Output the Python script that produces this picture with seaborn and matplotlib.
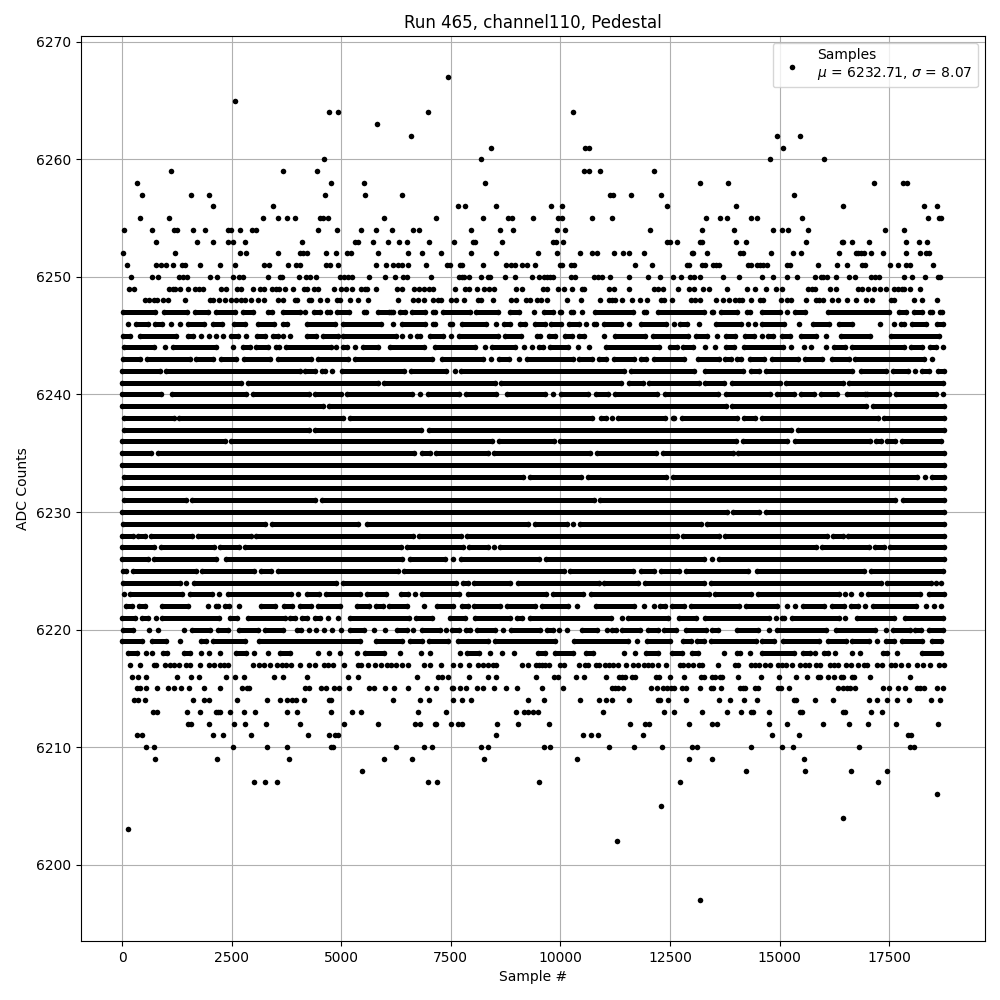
import pandas as pd
import matplotlib
matplotlib.use("Agg")
import matplotlib.pyplot as plt
import seaborn as sns

# outlying samples, read one by one: ADC level -> sample numbers
sparse_levels = [6267, 6265, 6264, 6263, 6262, 6261, 6260, 6259, 6258, 6257, 6256, 6255, 6254, 6253, 6252, 6251, 6250, 6249, 6248,
                 6217, 6216, 6215, 6214, 6213, 6212, 6211, 6210, 6209, 6208, 6207, 6206, 6205, 6204, 6203, 6202, 6197]
sparse_samples = [
    [7425],
    [2584],
    [4712, 4917, 6969, 10289],
    [5806],
    [6582, 14940, 15464],
    [8406, 10562, 10654, 15077],
    [4598, 8178, 14780, 16012],
    [1110, 3663, 4438, 10540, 10654, 10904, 12136],
    [334, 4758, 5510, 8269, 13184, 13823, 17152, 17813, 17904],
    [448, 1566, 1976, 4621, 5533, 6376, 11132, 11200, 11611, 12295, 15328],
    [2067, 3435, 7653, 7813, 8542, 9787, 10038, 12432, 14005, 16445, 18292, 18588],
    [403, 1064, 3207, 3549, 3754, 3937, 4507, 4590, 4690, 5966, 7167, 8223, 8816, 8907, 9377, 9947, 10038, 10722, 11178, 13321,
     13640, 13800, 14347, 14484, 15510, 18383, 18634, 18679],
    [38, 676, 1178, 1254, 1611, 1885, 2410, 2478, 2683, 2956, 3048, 4461, 4894, 5442, 5784, 6148, 6627, 6764, 7950, 8611, 8930,
     9924, 10106, 12044, 13230, 13960, 14849, 15054, 15191, 15647, 17402, 17836],
    [768, 1702, 2067, 2409, 2523, 2797, 4096, 5305, 5373, 5715, 6057, 6308, 6490, 6992, 7577, 8010, 8056, 8679, 9833, 9901, 10061,
     12432, 12500, 12660, 13184, 13230, 14005, 14233, 15601, 16422, 16445, 16650, 17038, 17881, 18178, 18360],
    [15, 1200, 2683, 2820, 3549, 4050, 4119, 4210, 4644, 4872, 5122, 5214, 5829, 6513, 6832, 7266, 7950, 8542, 9491, 9924, 10448,
     10722, 10836, 11224, 11429, 11566, 11908, 13002, 13025, 13344, 14096, 14165, 14803, 15305, 15487, 16354, 16741, 16800, 16855,
     16923, 17083, 17357, 17881, 18200, 18337, 18406],
    [106, 768, 882, 996, 1155, 1376, 1444, 1771, 2227, 2569, 3230, 3344, 3777, 3960, 4050, 4644, 4735, 4917, 5784, 6012, 6171, 6285,
     6376, 6513, 6924, 7402, 7471, 7699, 7744, 8223, 8748, 8884, 8953, 9135, 9249, 9422, 9992, 10038, 10243, 10312, 11702, 12090,
     12888, 12934, 13230, 13298, 13481, 13549, 13618, 14279, 14347, 14484, 14552, 14621, 14712, 15168, 15236, 15875, 16308, 16536,
     16878, 16946, 17516, 17699, 17881, 17972, 18497],
    [198, 676, 813, 1292, 1383, 1474, 1999, 2158, 2523, 2660, 2751, 3321, 3595, 3640, 4028, 4188, 4279, 4416, 4963, 5054, 5145, 5236,
     5624, 5989, 6217, 6399, 6490, 7038, 7676, 7744, 7790, 7904, 8178, 8337, 8383, 8725, 8953, 9354, 9514, 9628, 9696, 9764, 9833,
     10243, 10334, 10768, 10859, 10950, 11132, 11566, 12000, 12272, 12569, 12751, 12956, 13048, 13184, 13709, 14074, 14598, 14849,
     15168, 15396, 15806, 15943, 15989, 16080, 16285, 16582, 16718, 17083, 17174, 17266, 17836, 18018, 18314, 18611, 18657],
    [152, 266, 1064, 1155, 1200, 1315, 1497, 1657, 1748, 1839, 2250, 2364, 2614, 2706, 2979, 3139, 3230, 3412, 3504, 3572, 3709, 3891,
     4142, 4210, 4370, 4461, 4826, 4986, 5100, 5236, 5442, 5533, 5578, 5784, 6262, 6376, 6650, 6764, 6878, 6992, 7083, 7592, 7813,
     7904, 8086, 8246, 8360, 8474, 8976, 9135, 9605, 9696, 9947, 10084, 10266, 10494, 10540, 11110, 11224, 11566, 12136, 12227, 12341,
     12683, 12934, 13048, 13253, 13390, 13800, 14256, 14438, 14689, 14917, 15054, 15647, 15738, 15806, 16148, 16285, 16787, 16878,
     17015, 17152, 17288, 17425, 17608, 17699, 17790, 17836, 17972, 18200],
    [517, 608, 722, 790, 927, 1041, 1429, 1999, 2067, 2204, 2341, 2478, 2592, 2706, 2797, 2934, 3093, 3230, 3549, 3663, 3937, 3982,
     4256, 4302, 4507, 4666, 4894, 4963, 5191, 5373, 5601, 6285, 6627, 6741, 6878, 7083, 7197, 7266, 7494, 7608, 7790, 8109, 8178,
     8451, 8862, 8976, 9204, 9308, 9468, 9559, 9696, 10152, 10471, 10904, 11110, 11178, 11246, 11406, 11634, 11817, 11977, 12295,
     12364, 12546, 12979, 13070, 13184, 13549, 13709, 13846, 13982, 14074, 14142, 14347, 14552, 14621, 15031, 15168, 15259, 15601,
     15829, 15897, 15989, 16194, 16331, 16536, 16741, 16969, 17106, 17539, 17608, 18064, 18246, 18588],
    [175, 403, 722, 770, 973, 1087, 1180, 1292, 1452, 1543, 1771, 1976, 2090, 2227, 2320, 2409, 2979, 3116, 3230, 3367, 3526, 3640,
     3732, 3846, 4050, 4256, 4393, 4598, 4700, 4803, 5054, 5373, 5460, 5601, 5761, 5898, 6034, 6126, 6240, 6376, 6513, 6878, 7014,
     7266, 7539, 7699, 7904, 8109, 8223, 8337, 8451, 8542, 9135, 9272, 9445, 9510, 9582, 9650, 9742, 9992, 10084, 10425, 10562, 10631,
     10813, 10882, 11018, 11110, 11200, 11315, 11497, 11657, 11771, 11908, 12000, 12090, 12227, 12409, 12728, 12797, 12911, 13025,
     13162, 13230, 13595, 13982, 14050, 14347, 14438, 14529, 14666, 14780, 14963, 15054, 15145, 15282, 15464, 15578, 15670, 15829,
     15920, 16148, 16240, 16331, 16513, 16627, 16787, 16923, 16992, 17220, 17334, 17539, 17630, 17767, 17927, 18132, 18269, 18428,
     18634, 18748],
    [220, 357, 540, 1246, 1566, 1748, 2364, 2569, 2774, 3458, 3663, 4210, 5145, 5373, 6718, 7197, 7288, 7425, 7904, 8337, 8520, 9445,
     9856, 9947, 10357, 10540, 11041, 11338, 11405, 11474, 11634, 11700, 12181, 12250, 12500, 12820, 13207, 13275, 13458, 13525,
     13640, 13685, 14050, 14575, 14986, 15373, 15624, 15875, 15920, 16103, 16240, 16400, 16445, 16650, 16695, 17060, 17972],
    [334, 403, 547, 790, 1041, 1178, 1338, 1520, 1862, 2227, 2728, 2842, 2888, 4165, 4256, 4530, 4644, 4826, 4940, 5168, 5624, 5738,
     5989, 6194, 6513, 6946, 7152, 7516, 7560, 7699, 7836, 8086, 8223, 8474, 8748, 9021, 9582, 10061, 11178, 11246, 11315, 11429,
     12067, 12204, 12341, 12432, 12523, 12592, 12774, 12865, 13184, 13435, 13480, 13663, 14096, 14165, 14210, 14438, 14506, 14963,
     15031, 15214, 16331, 16445, 16536, 16605, 16718, 17357, 17494, 17699, 17858, 18132, 18200, 18292, 18588, 18725],
    [266, 357, 517, 1611, 1862, 1976, 2614, 3298, 3595, 3754, 3868, 3960, 4142, 4712, 4758, 6171, 6787, 6992, 7539, 7744, 7950, 9272,
     9628, 10448, 10882, 11041, 11178, 11566, 12227, 12270, 12455, 12865, 13618, 13868, 14188, 14484, 15328, 15373, 15806, 16217,
     17038, 17220, 17448, 17676, 17950, 18451, 18657],
    [699, 790, 1474, 1771, 2136, 2180, 2227, 2455, 2774, 3025, 3754, 3982, 4758, 5236, 5442, 6741, 7380, 8998, 9181, 9272, 9377, 9491,
     10973, 12364, 12592, 13230, 13800, 14119, 14347, 14393, 14758, 15464, 15510, 16445, 16490, 17083, 17334],
    [1497, 1566, 1976, 2546, 2797, 3276, 4050, 5054, 5829, 6673, 6787, 7129, 7152, 7494, 7653, 7744, 8565, 9044, 9742, 11588, 11930,
     12022, 12934, 13458, 13572, 14758, 15168, 15989, 16582, 17015, 17653, 18611],
    [334, 448, 2067, 2295, 2934, 4233, 4712, 4849, 4917, 8542, 10517, 10699, 10859, 11885, 14826, 15442, 17927, 17995],
    [540, 722, 2523, 3298, 3754, 4758, 4803, 6240, 6878, 7060, 8178, 8337, 9628, 9764, 11110, 11680, 12318, 13002, 13116, 14347, 15054,
     15305, 16810, 17972, 18064],
    [745, 2158, 3800, 5966, 6604, 8246, 10380, 12934, 13458, 15556],
    [5464, 14233, 15578, 16627, 17448],
    [3002, 3253, 3526, 6969, 7174, 9514, 12728, 17243],
    [18588],
    [12295],
    [16445],
    [129],
    [11292],
    [13184],
]

# the core levels overlap into solid bands: unbroken stretches of samples, "first-last" (or one lone sample)
band_levels = [6247, 6246, 6245, 6244, 6243, 6242, 6241, 6240, 6239, 6238, 6237, 6236, 6235, 6234, 6233,
               6232, 6231, 6230, 6229, 6228, 6227, 6226, 6225, 6224, 6223, 6222, 6221, 6220, 6219, 6218]
band_runs = [
    "15-745 950-1482 1672-1961 2143-2569 2751-2987 3336-3420 3663-4051 4180 4370-4507 4666-4735 4894-5168 5525-5571 5829-6100 6140-6185 6344-6451 6618-6922 7090-7150 7318-7933 8078-8579 8853-9050 9408 9620-9833 10000-10023 10236-10289 10487 10783-11657 11916-11961 12220-13282 13465-13488 13655-14020 14248-14331 14590-15000 15175 15342-15585 16110-17500 17736-17880 18070-18260 18428-18488 18671-18716",
    "130 320-590 740-910 1120 1310 1500-1880 2080-2280 2560-2800 3090-3460 3660-3760 4230-4850 5050-5910 6190 6380-6910 7090-7150 7480-7530 7750-8310 8540 8710-8850 9070-9190 9420-9640 9790-10020 10190-10420 10590 10760-10820 10990-11390 11560 11840-12420 12600 12720-12890 13170 13560-14130 14290 14440 14600-15110 15440 15770-16120 16350-16660 17290 17610 17780-17840 18020-18340 18600-18740",
    "20-170 400-1240 1500-1620 1790 1990 2140 2300 2490-2650 2830 3070-3270 3450-3560 3670 3840 4220-4430 4580-4920 5030-6250 6390 6570 6720-6790 7030-7330 7500 7680-8580 8730-9090 9470-9540 9730-9870 10110-10270 10420-10540 10990 11250-11930 12110-12900 13100-13340 13570 13780-13990 14210-14410 14590 14740-14840 15050-15240 15500-15840 16070 16410-17060 17550-18630",
    "40-720 970 1160-2140 2540 2750-2910 3060-3330 3510-3580 3750-4760 4880 5030-5130 5320 5500-5850 6110-6890 7130-8060 8280 8430-8970 9170 9350 9510-9610 9770-10180 10400 10650 11040-12260 12500-12650 12800-13030 13310 13530 13770-13970 14190-15070 15250 15550 15710 16070 16250-16500 16660-17840 17990-18260 18430-18560 18720",
    "20-420 560-1540 1690-2070 2260-2610 2790-3380 3560-4300 4480-5150 5310-7070 7300-8240 8420 8590-8820 9060 9230-10290 10420-10710 10880-11050 11230-11680 11840-11960 12130-12830 13150-13620 13750-13890 14030-14130 14320-14640 14830-15430 15590-15980 16200-16590 16730-18300 18480",
    "0-860 1000-4050 4180-4390 4550-4620 4800 5020-6430 6600-7400 7600 7740-11450 11610-13040 13310-14160 14340-14540 14700-16660 16850-17420 17590-17930 18090 18250-18400 18610-18750",
    "0-2710 2870-5840 5980-8500 8650-11390 11560-11890 12030-13170 13310-13740 13910-15020 15150-16440 16580-18720",
    "0-880 1140-2830 2980-4260 4400-4990 5130-6620 6790 6980-7680 7850-8520 8780-9640 9830 10020-10630 10810-11090 11250-12210 12390-13590 13770-14790 14950-15320 15480-15790 15950-16320 16540-16940 17000-17500 17660-18560 18740",
    "0-4580 4710-13780 13910-16970 17130-18750",
    "40-1190 1300-5040 5190-10720 10930-11030 11170 11320-12390 12560-12600 12770-14040 14200-14440 14590-17250 17390-18750",
    "40-4260 4400-6830 7000-15270 15420-18750",
    "0-2340 2490-8440 8590-9850 9990-14000 14170-15180 15360-17060 17200-17310 17450-17630 17800-18690",
    "0-650 810-6660 6850-7020 7170-8340 8480-10680 10830-12190 12350-13930 14060-18750",
    "0-18750",
    "50-9150 9310-10460 10620-12410 12560-18146 18320 18470-18750",
    "0-18750",
    "40-1450 1600-4410 4560-10770 10900-17640 17810-18750",
    "0-13810 13940-14540 14700-18750",
    "20-3270 3410-5380 5580-9260 9410-10140 10290 10450-13210 13350-18750",
    "0-250 370-530 670-1600 1730-2930 3050-6640 6770-7740 7870-12660 12800-13620 13750-16080 16220-16440 16570-18750",
    "0-720 890-2090 2230-2670 2800-6360 6500-7780 7910-8340 8480 8620-15830 15970-17030 17170-17390 17530-18750",
    "0-580 720-2140 2370-6390 6570-7360 7550 7740-9510 9670-13280 13450 13630-18750",
    "20-100 240-1690 1820-3020 3170-3400 3550-6290 6430-10080 10220-11650 11850-12130 12300-12700 12860-14290 14490-16930 17090-18720",
    "20-1310 1460 1650-4890 5030-7610 7770-7900 8040-8850 9030-10870 11000-11770 11930-13270 13440-17310 17450-18450 18560 18690",
    "50 190-1370 1540-2050 2200 2410-3850 4010 4210-4490 4660-5420 5580-6010 6370-6530 6680 6840-7690 7890-9680 9840-10520 10700-13400 13530-14350 14510-16360 16500 16630 16860 17010-18210 18420-18750",
    "90-230 380-520 900-1500 1970 2140-2190 2350-2430 2670 3180-3480 3690-3880 4070-4300 4480-4980 5350-5630 5790-5950 6090-6490 6880 7190-7550 7750-7900 8020-8620 8780-9420 9570-10180 10380 10810-11680 11900 12130 12270-12380 12550-12810 12990-14080 14240-14950 15160 15360 15530-16020 16200-16470 16620-16780 16950 17140-18110 18330 18530 18680",
    "0-290 460-590 780 900-2210 2470-2630 2870-3710 3840-3950 4100-4230 4400-4510 4690 4920 5190-6550 6700-7080 7470-7830 8050-8850 9000-9130 9310-11150 11410 11550-12450 12700-13090 13310-14750 14910 15060-15110 15290-16360 16490 16770-17610 17860-18740",
    "20-250 610 810 1410 1600-2000 2180-2420 2660-3100 3260-3670 3980-4090 4260 4430 4600 4780 4990 5200-5530 5740 6000 6270-6510 6630 6850-7260 7390 7530-7690 7850-7930 8090-8500 8690 8880-9530 9700-9830 9960 10150 10490-10840 11060 11170-11280 11410-11810 11990-12230 12370-12640 12860-13320 13450-13590 14030-14510 14770 14950-16060 16280-17180 17420 17590-17980 18100-18220 18420-18720",
    "0-460 680-1010 1320 1800-1920 2080-2810 3130-5420 5790-6390 6580-6850 7010-7440 7660-8350 8500-9870 10320-11540 11740 11970-12490 12800-12980 13120-13270 13430-14460 14600-14880 15080-15900 16110-16510 16660-17040 17230 17420-17610 17800-18260 18480-18690",
    "130-350 540 690 930-1030 1410-1560 1790 1990 2240 2610-2830 3010 3340 3610-3820 4460 4730 4980 5350 5550-5970 6330 6820 7030 7700 7860-8140 8400 8660 8940 9480-9640 9880-10290 10590-10750 11440 11700 11950-12230 12550-12770 13010-13130 13740 14030-14100 14320 14600-15330 15540-15690 15820 16010-16100 16260 16660 16830 17360-17460 17670 18250-18690",
]

point_rows = []
stretch_rows = []
for level, samples in zip(sparse_levels, sparse_samples):
    for s in samples:
        point_rows.append((s, level))
run_id = 0
for level, runs in zip(band_levels, band_runs):
    for token in runs.split():
        ends = [int(v) for v in token.split("-")]
        for s in ends:
            point_rows.append((s, level))
            stretch_rows.append((s, level, run_id))
        run_id += 1
points_df = pd.DataFrame(point_rows, columns=["sample", "adc"])
stretch_df = pd.DataFrame(stretch_rows, columns=["sample", "adc", "run"])

fig, ax = plt.subplots(figsize=(10, 10), dpi=100)

# solid part of the bands, a bit thinner than the dots like the ragged rows in the original
sns.lineplot(data=stretch_df, x="sample", y="adc", units="run", estimator=None, sort=False, color="black",
             linewidth=3.6, solid_capstyle="round", legend=False, zorder=2, ax=ax)
sns.scatterplot(data=points_df, x="sample", y="adc", color="black", s=16, linewidth=0, zorder=2, ax=ax,
                label="Samples\n$\\mu$ = 6232.71, $\\sigma$ = 8.07")

ax.set_title("Run 465, channel110, Pedestal")
ax.set_xlabel("Sample #")
ax.set_ylabel("ADC Counts")
ax.grid(True)
ax.legend(loc="upper right")

fig.subplots_adjust(left=0.081, right=0.985, top=0.964, bottom=0.059)
plt.savefig("out.png", dpi=100)
